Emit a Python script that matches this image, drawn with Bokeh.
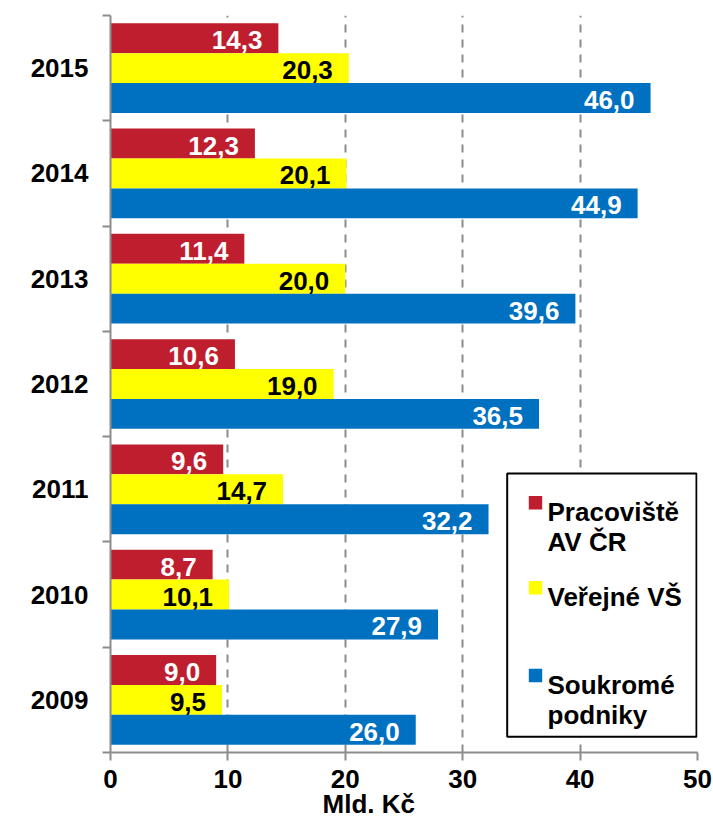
import numpy as np
from bokeh.plotting import figure
from bokeh.models import (ColumnDataSource, FixedTicker, Label, BoxAnnotation,
                          Range1d, LinearAxis)
from bokeh.core.properties import value
from bokeh.embed import file_html
from bokeh.resources import INLINE

# ---- data ----
years = ["2009", "2010", "2011", "2012", "2013", "2014", "2015"]
av_cr = [9.0, 8.7, 9.6, 10.6, 11.4, 12.3, 14.3]
verejne_vs = [9.5, 10.1, 14.7, 19.0, 20.0, 20.1, 20.3]
soukrome = [26.0, 27.9, 32.2, 36.5, 39.6, 44.9, 46.0]
series_names = ["Pracoviště\nAV ČR", "Veřejné VŠ", "Soukromé\npodniky"]
x_ticks = [0, 10, 20, 30, 40, 50]
axis_title = "Mld. Kč"

# ---- style ----
FONT = "Liberation Sans"
colors = ["#BE1E2D", "#FFFF00", "#0070C0"]
text_colors = ["white", "black", "white"]
GRAY = "#8c8c8c"
bar_h = 0.284
offsets = [bar_h, 0.0, -bar_h]
TITLE_X = 22.0  # horizontal anchor of the x-axis title (in axis units)

p = figure(width=713, height=821,
           x_range=Range1d(0, 50), y_range=Range1d(0, len(years)),
           output_backend="svg", toolbar_location=None,
           min_border_left=110, min_border_right=16,
           min_border_top=15, min_border_bottom=67)

centers = np.arange(len(years)) + 0.5
for vals, off, col, tcol in zip([av_cr, verejne_vs, soukrome], offsets, colors, text_colors):
    src = ColumnDataSource(dict(
        y=centers + off,
        x=vals,
        lbl=[f"{v:.1f}".replace(".", ",") for v in vals],
    ))
    p.hbar(y="y", left=0, right="x", height=bar_h, fill_color=col,
           line_color=None, source=src)
    p.text(x="x", y="y", text="lbl", x_offset=-16, y_offset=2,
           text_align="right", text_baseline="middle",
           text_font=value(FONT), text_font_style="bold",
           text_font_size="26px", text_color=tcol, source=src)

xa = p.xaxis[0]
ya = p.yaxis[0]

# axes
xa.ticker = FixedTicker(ticks=x_ticks)
ya.ticker = FixedTicker(ticks=[float(c) for c in centers],
                        minor_ticks=list(range(len(years) + 1)))
ya.major_label_overrides = {float(c): y for c, y in zip(centers, years)}

for ax in (xa, ya):
    ax.axis_line_color = GRAY
    ax.axis_line_width = 2
    ax.major_label_text_font = FONT
    ax.major_label_text_font_style = "bold"
    ax.major_label_text_font_size = "26px"
    ax.major_label_text_color = "black"

xa.major_tick_line_color = GRAY
xa.major_tick_line_width = 2
xa.major_tick_out = 8
xa.major_tick_in = 0
xa.minor_tick_line_color = None
xa.minor_tick_out = 0
xa.minor_tick_in = 0
xa.major_label_standoff = 9

ya.major_tick_line_color = None
ya.major_tick_out = 0
ya.major_tick_in = 0
ya.minor_tick_line_color = GRAY
ya.minor_tick_line_width = 2
ya.minor_tick_out = 8
ya.minor_tick_in = 0
ya.major_label_standoff = 14

# x-axis title as a bare second axis below (lets it sit left of centre like the original)
title_axis = LinearAxis(ticker=FixedTicker(ticks=[TITLE_X]),
                        major_label_overrides={TITLE_X: axis_title},
                        axis_line_color=None, major_tick_line_color=None,
                        minor_tick_line_color=None,
                        major_tick_out=0, major_tick_in=0,
                        minor_tick_out=0, minor_tick_in=0,
                        major_label_standoff=-2,
                        major_label_text_font=FONT,
                        major_label_text_font_style="bold",
                        major_label_text_font_size="26px",
                        major_label_text_color="black")
p.add_layout(title_axis, "below")

# grid
p.ygrid.visible = False
p.xgrid.ticker = FixedTicker(ticks=x_ticks[1:])
p.xgrid.grid_line_color = GRAY
p.xgrid.grid_line_width = 2
p.xgrid.grid_line_dash = "8 7"
p.outline_line_color = None

# legend (manual, positions in px from frame's left / bottom edge)
p.add_layout(BoxAnnotation(left=396.7, right=586, top=279, bottom=15.7,
                           left_units="screen", right_units="screen",
                           top_units="screen", bottom_units="screen",
                           fill_color="white", fill_alpha=1.0,
                           line_color="black", line_width=2, line_alpha=1.0))
first_baselines = [240.7, 155.7, 68.0]
line_step = 30
for name, col, base in zip(series_names, colors, first_baselines):
    cy = base + 9
    p.add_layout(BoxAnnotation(left=418.3, right=431.7, top=cy + 6.7, bottom=cy - 6.7,
                               left_units="screen", right_units="screen",
                               top_units="screen", bottom_units="screen",
                               fill_color=col, fill_alpha=1.0, line_color=None))
    for k, line in enumerate(name.split("\n")):
        p.add_layout(Label(x=437, y=base - k * line_step, x_units="screen", y_units="screen",
                           text=line, text_align="left", text_baseline="alphabetic",
                           text_font=FONT, text_font_style="bold", text_font_size="26px",
                           text_color="black"))

open("out.html", "w").write(file_html(p, INLINE))
